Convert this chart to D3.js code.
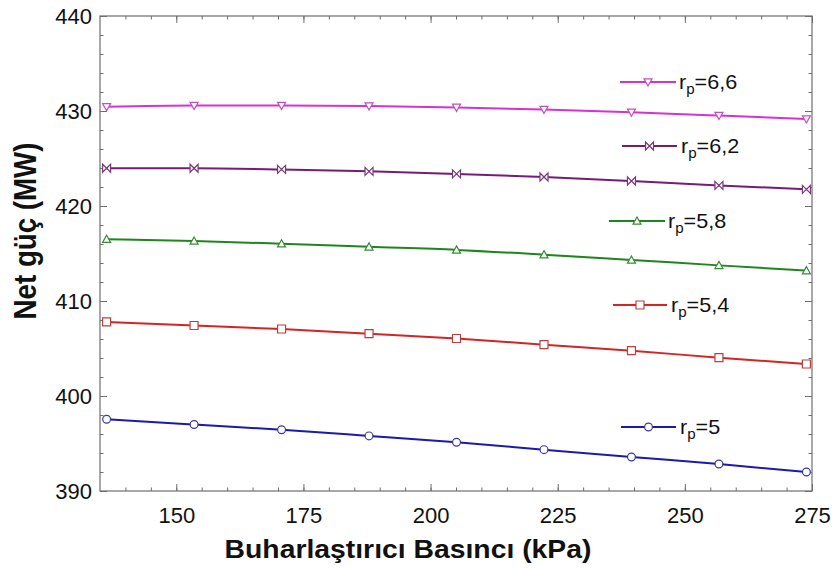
<!DOCTYPE html>
<html><head><meta charset="utf-8">
<script src="https://cdn.jsdelivr.net/npm/d3@7"></script>
<style>body{margin:0;background:#fff}svg{display:block;font-family:"Liberation Sans",Arial,sans-serif}</style>
</head><body><svg id="c" width="835" height="568"></svg>
<script>
const pressures = [136.3, 153.5, 170.7, 187.9, 205.1, 222.3, 239.5, 256.7, 273.9];
const rp5  = [397.55, 397.0, 396.45, 395.8, 395.13, 394.35, 393.58, 392.84, 392.0];
const rp54 = [407.8, 407.42, 407.05, 406.56, 406.05, 405.4, 404.77, 404.03, 403.37];
const rp58 = [416.5, 416.32, 416.03, 415.7, 415.38, 414.88, 414.32, 413.75, 413.2];
const rp62 = [423.97, 423.97, 423.85, 423.65, 423.38, 423.05, 422.63, 422.17, 421.75];
const rp66 = [430.45, 430.58, 430.58, 430.52, 430.38, 430.15, 429.86, 429.52, 429.16];
const seriesNames = ["6,6", "6,2", "5,8", "5,4", "5"];
const xTicks = [150, 175, 200, 225, 250, 275];
const yTicks = [390, 400, 410, 420, 430, 440];

const series = [
  {name: seriesNames[0], values: rp66, color: "#d830d8", mcolor: "#c050c0", shape: "tdown", leg: [620, 676, 82, 679]},
  {name: seriesNames[1], values: rp62, color: "#781a78", mcolor: "#7a3a7a", shape: "bowtie", leg: [622, 677, 146, 681]},
  {name: seriesNames[2], values: rp58, color: "#1d871d", mcolor: "#3a8a3a", shape: "tup", leg: [609, 665, 221, 668]},
  {name: seriesNames[3], values: rp54, color: "#d42424", mcolor: "#b84040", shape: "square", leg: [613, 667, 305, 671]},
  {name: seriesNames[4], values: rp5, color: "#1a1aad", mcolor: "#3a3a9a", shape: "circle", leg: [621, 676, 427, 680]}
];

const svg = d3.select("#c");
const L = 100, R = 812, T = 16, B = 491;
const x = d3.scaleLinear().domain([135, 275]).range([L, R]);
const y = d3.scaleLinear().domain([390, 440]).range([B, T]);
const axisColor = "#6e6e6e";

const g = svg.append("g");
function tickSet(axisFn, scale, vals, size, transform) {
  const a = axisFn(scale).tickValues(vals).tickSize(size).tickFormat("");
  const gg = g.append("g").attr("transform", transform).call(a);
  gg.select(".domain").remove();
  gg.selectAll("line").attr("stroke", axisColor).attr("stroke-width", 1);
}
const xMinor = d3.range(140, 276, 5);
const yMinor = d3.range(390, 441, 2);
tickSet(d3.axisTop, x, xMinor, 3.5, `translate(0,${B})`);
tickSet(d3.axisTop, x, xTicks, 7, `translate(0,${B})`);
tickSet(d3.axisBottom, x, xMinor, 3.5, `translate(0,${T})`);
tickSet(d3.axisBottom, x, xTicks, 7, `translate(0,${T})`);
tickSet(d3.axisRight, y, yMinor, 3.5, `translate(${L},0)`);
tickSet(d3.axisRight, y, yTicks, 7, `translate(${L},0)`);
tickSet(d3.axisLeft, y, yMinor, 3.5, `translate(${R},0)`);
tickSet(d3.axisLeft, y, yTicks, 7, `translate(${R},0)`);

svg.append("rect").attr("x", L).attr("y", T).attr("width", R - L).attr("height", B - T)
  .attr("fill", "none").attr("stroke", axisColor).attr("stroke-width", 1.2);

const xl = d3.axisBottom(x).tickValues(xTicks).tickSize(0).tickPadding(0);
const gx = svg.append("g").attr("transform", `translate(0,${B})`).call(xl);
gx.select(".domain").remove();
gx.selectAll("text").attr("font-size", 22).attr("fill", "#111").attr("dy", null).attr("y", 32)
  .attr("font-family", "Liberation Sans, Arial, sans-serif");
const yl = d3.axisLeft(y).tickValues(yTicks).tickSize(0).tickPadding(0);
const gy = svg.append("g").attr("transform", `translate(${L},0)`).call(yl);
gy.select(".domain").remove();
gy.selectAll("text").attr("font-size", 22).attr("fill", "#111").attr("x", -8).attr("dy", "0.36em")
  .attr("font-family", "Liberation Sans, Arial, sans-serif");

svg.append("text").attr("transform", "translate(408,558) scale(1.09,1)").attr("text-anchor", "middle")
  .attr("font-size", 26).attr("font-weight", "bold").attr("fill", "#111").text("Buharlaştırıcı Basıncı (kPa)");
svg.append("text").attr("transform", "translate(36,231) rotate(-90) scale(1.14,1.3)").attr("text-anchor", "middle")
  .attr("font-size", 24.3).attr("font-weight", "bold").attr("fill", "#111").text("Net güç (MW)");

function marker(sel, shape, color) {
  const s = 4;
  let p;
  if (shape === "circle") return sel.append("circle").attr("r", 3.9).attr("fill", "#fff").attr("stroke", color).attr("stroke-width", 1.2);
  if (shape === "square") p = `M${-s},${-s}H${s}V${s}H${-s}Z`;
  if (shape === "tup") p = `M0,${-s}L${s},${s * 0.8}L${-s},${s * 0.8}Z`;
  if (shape === "tdown") p = `M0,${s}L${s},${-s * 0.8}L${-s},${-s * 0.8}Z`;
  if (shape === "bowtie") p = `M${-s},${-s}L${s},${s}V${-s}L${-s},${s}Z`;
  return sel.append("path").attr("d", p).attr("fill", "#fff").attr("stroke", color).attr("stroke-width", 1.2);
}

const line = d3.line().x(d => x(d[0])).y(d => y(d[1])).curve(d3.curveMonotoneX);
series.forEach(s => {
  const pts = pressures.map((p, i) => [p, s.values[i]]);
  svg.append("path").attr("d", line(pts)).attr("fill", "none").attr("stroke", s.color).attr("stroke-width", 2);
  pts.forEach(pt => {
    const m = svg.append("g").attr("transform", `translate(${x(pt[0])},${y(pt[1])})`);
    marker(m, s.shape, s.mcolor);
  });
  const [x1, x2, ly, tx] = s.leg;
  svg.append("line").attr("x1", x1).attr("x2", x2).attr("y1", ly).attr("y2", ly).attr("stroke", s.color).attr("stroke-width", 2);
  marker(svg.append("g").attr("transform", `translate(${(x1 + x2) / 2},${ly})`), s.shape, s.mcolor);
  const t = svg.append("text").attr("transform", `translate(${tx},${ly + 7}) scale(1.08,1)`).attr("font-size", 20).attr("fill", "#111");
  t.append("tspan").text("r");
  t.append("tspan").attr("font-size", 14).attr("dy", 5).text("p");
  t.append("tspan").attr("dy", -5).text("=" + s.name);
});
</script></body></html>
